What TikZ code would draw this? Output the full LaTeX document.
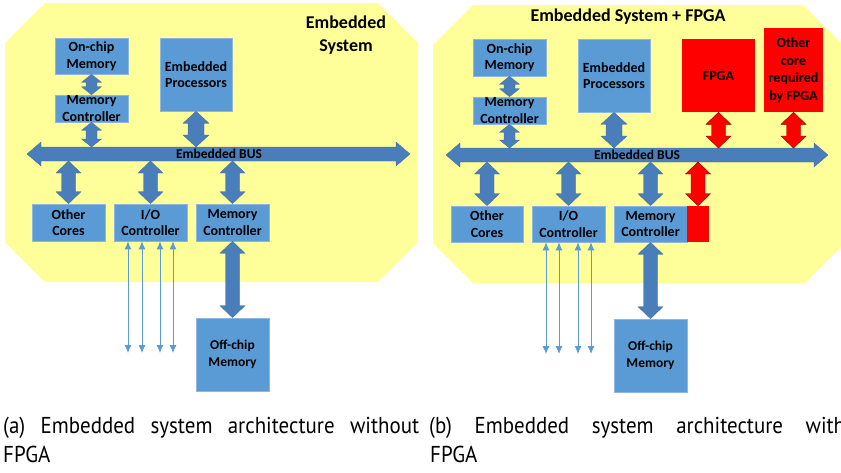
\documentclass[tikz,border=0pt]{standalone}
\usepackage{fontspec}
\setmainfont{Carlito}
\newfontfamily\capfont[FakeStretch=0.91]{PT Sans}
\usetikzlibrary{calc,arrows.meta}
\definecolor{bgyellow}{HTML}{FFFF99}
\definecolor{boxblue}{HTML}{5B9BD5}
\definecolor{boxedge}{HTML}{8DB6E2}
\definecolor{arrblue}{HTML}{4A7EBB}
\definecolor{thinblue}{HTML}{5B9BD5}
\definecolor{fpgared}{HTML}{FF0000}
\tikzset{
  panel/.style={fill=bgyellow},
  box/.style={fill=boxblue, draw=boxedge, line width=0.6pt, inner sep=0pt, align=center,
    font=\bfseries\fontsize{14}{16.5}\selectfont},
  redbox/.style={box, fill=fpgared, draw=none},
  title/.style={font=\bfseries\fontsize{18}{23}\selectfont, align=center, inner sep=0pt},
  buslabel/.style={font=\bfseries\fontsize{13.5}{16}\selectfont, inner sep=0pt},
  fatarrow/.style={fill=arrblue, draw=arrblue!85!black, line width=0.3pt},
  redarrow/.style={fill=fpgared, draw=red!55!black, line width=0.4pt},
  thinarrow/.style={draw=thinblue, line width=0.9pt, {Latex[length=8pt,width=7pt]}-{Latex[length=8pt,width=7pt]}},
  caption/.style={font=\capfont\fontsize{23}{29}\selectfont, inner sep=0pt, anchor=base west},
}
% vertical double arrow: [style]{top}{bottom}{body half}{head half}{head length}
\newcommand{\vdarr}[6][fatarrow]{%
  \path[#1] let \p1=#2, \p2=#3 in
    (\x1,\y1) -- (\x1+#5pt,\y1-#6pt) -- (\x1+#4pt,\y1-#6pt) -- (\x1+#4pt,\y2+#6pt)
    -- (\x1+#5pt,\y2+#6pt) -- (\x1,\y2) -- (\x1-#5pt,\y2+#6pt) -- (\x1-#4pt,\y2+#6pt)
    -- (\x1-#4pt,\y1-#6pt) -- (\x1-#5pt,\y1-#6pt) -- cycle;}
% horizontal double arrow: {left}{right}{body half}{head half}{head length}
\newcommand{\hdarr}[5]{%
  \path[fatarrow] let \p1=#1, \p2=#2 in
    (\x1,\y1) -- (\x1+#5pt,\y1+#4pt) -- (\x1+#5pt,\y1+#3pt) -- (\x2-#5pt,\y1+#3pt)
    -- (\x2-#5pt,\y1+#4pt) -- (\x2,\y1) -- (\x2-#5pt,\y1-#4pt) -- (\x2-#5pt,\y1-#3pt)
    -- (\x1+#5pt,\y1-#3pt) -- (\x1+#5pt,\y1-#4pt) -- cycle;}
\begin{document}
\begin{tikzpicture}[x=1pt,y=-1pt]
\useasboundingbox (0,0) rectangle (841,472);
\clip (0,0) rectangle (841,472);

% ---------------- panel (a) ----------------
\fill[panel] (45,3) -- (378,3) -- (418,43) -- (418,242) -- (378,282) -- (45,282) -- (5,242) -- (5,43) -- cycle;
\node[title] (titleA) at (346,35.5) {Embedded\\System};

\node[box, minimum width=73pt, minimum height=36pt] (ocmA) at (91.5,56) {On-chip\\Memory};
\node[box, minimum width=73pt, minimum height=27pt] (mctA) at (91.5,108.5) {Memory\\Controller};
\node[box, minimum width=72pt, minimum height=73pt] (epA) at (196,74.5) {Embedded\\Processors};
\node[box, minimum width=73pt, minimum height=37pt] (ocA) at (68.5,222.5) {Other\\Cores};
\node[box, minimum width=73pt, minimum height=37pt] (ioA) at (150.5,222.5) {I/O\\Controller};
\node[box, minimum width=73pt, minimum height=37pt] (mcbA) at (232.5,222.5) {Memory\\Controller};
\node[box, minimum width=73pt, minimum height=73pt, font=\bfseries\fontsize{13.5}{17}\selectfont] (offA) at (232.5,354.5) {Off-chip\\Memory};

\coordinate (busAL) at (27,154);
\coordinate (busAR) at (410,154);
\coordinate (busAt) at (0,147);
\coordinate (busAb) at (0,161);
\hdarr{(busAL)}{(busAR)}{7}{12}{14}
\node[buslabel] (busAlbl) at (219,154) {Embedded BUS};

\vdarr{(ocmA.south)}{(mctA.north)}{5.5}{10}{8}
\vdarr{(mctA.south)}{(mctA.south |- busAt)}{5.5}{10}{8}
\vdarr{(epA.south)}{(epA.south |- busAt)}{8}{13}{12}
\vdarr{(ocA.north |- busAb)}{(ocA.north)}{7}{12.5}{12}
\vdarr{(ioA.north |- busAb)}{(ioA.north)}{7}{12.5}{12}
\vdarr{(mcbA.north |- busAb)}{(mcbA.north)}{7}{12.5}{12}
\vdarr{(mcbA.south)}{(offA.north)}{7}{12.5}{12}

\foreach \i/\xx in {1/128,2/142,3/160,4/173}{
  \coordinate (ioAend\i) at (\xx,353);
  \draw[thinarrow] (ioA.south -| ioAend\i) -- (ioAend\i);
}

% ---------------- panel (b) ----------------
\fill[panel] (473,5) -- (803,5) -- (843,45) -- (843,245) -- (805,283) -- (473,283) -- (433,243) -- (433,45) -- cycle;
\node[title] (titleB) at (628,17) {Embedded System + FPGA};

\node[box, minimum width=73pt, minimum height=37pt] (ocmB) at (509.5,57.5) {On-chip\\Memory};
\node[box, minimum width=73pt, minimum height=27pt] (mctB) at (509.5,110.5) {Memory\\Controller};
\node[box, minimum width=72pt, minimum height=73pt] (epB) at (614,75.5) {Embedded\\Processors};
\node[redbox, minimum width=73pt, minimum height=73pt] (fpgaB) at (718.5,75.5) {FPGA};
\node[redbox, minimum width=59pt, minimum height=84pt, font=\bfseries\fontsize{14}{17.5}\selectfont] (ocrB) at (793.5,70) {Other\\core\\required\\by FPGA};
\node[box, minimum width=72pt, minimum height=36pt] (ocB) at (487,224) {Other\\Cores};
\node[box, minimum width=73pt, minimum height=36pt] (ioB) at (568.5,224) {I/O\\Controller};
\node[box, minimum width=73pt, minimum height=36pt] (mcbB) at (650.5,224) {Memory\\Controller};
\node[redbox, minimum width=22pt, minimum height=36pt] (mcrB) at (698,224) {};
\node[box, minimum width=73pt, minimum height=73pt, font=\bfseries\fontsize{13.5}{17}\selectfont] (offB) at (650.5,355.5) {Off-chip\\Memory};

\coordinate (busBL) at (446,155);
\coordinate (busBR) at (828,155);
\coordinate (busBt) at (0,148);
\coordinate (busBb) at (0,162);
\hdarr{(busBL)}{(busBR)}{7}{12}{14}
\node[buslabel] (busBlbl) at (637,155) {Embedded BUS};

\vdarr{(ocmB.south)}{(mctB.north)}{5.5}{10}{8}
\vdarr{(mctB.south)}{(mctB.south |- busBt)}{5.5}{10}{8}
\vdarr{(epB.south)}{(epB.south |- busBt)}{8}{13}{12}
\vdarr[redarrow]{(fpgaB.south)}{(fpgaB.south |- busBt)}{7}{12.5}{12}
\vdarr[redarrow]{(ocrB.south)}{(ocrB.south |- busBt)}{7}{12.5}{12}
\vdarr{(ocB.north |- busBb)}{(ocB.north)}{7}{12.5}{12}
\vdarr{(ioB.north |- busBb)}{(ioB.north)}{7}{12.5}{12}
\vdarr{(mcbB.north |- busBb)}{(mcbB.north)}{7}{12.5}{12}
\vdarr[redarrow]{(mcrB.north |- busBb)}{(mcrB.north)}{7}{12.5}{12}
\vdarr{(mcbB.south)}{(offB.north)}{7}{12.5}{12}

\foreach \i/\xx in {1/546,2/559,3/578,4/591}{
  \coordinate (ioBend\i) at (\xx,354);
  \draw[thinarrow] (ioB.south -| ioBend\i) -- (ioBend\i);
}

% ---------------- captions ----------------
\node[caption] (capA1) at (3,433) {\makebox[416pt][s]{(a) Embedded system architecture without}};
\node[caption] (capA2) at (3,462) {FPGA};
\node[caption] (capB1) at (429,433) {\makebox[416pt][s]{(b) Embedded system architecture with}};
\node[caption] (capB2) at (430,462) {FPGA};
\end{tikzpicture}
\end{document}
